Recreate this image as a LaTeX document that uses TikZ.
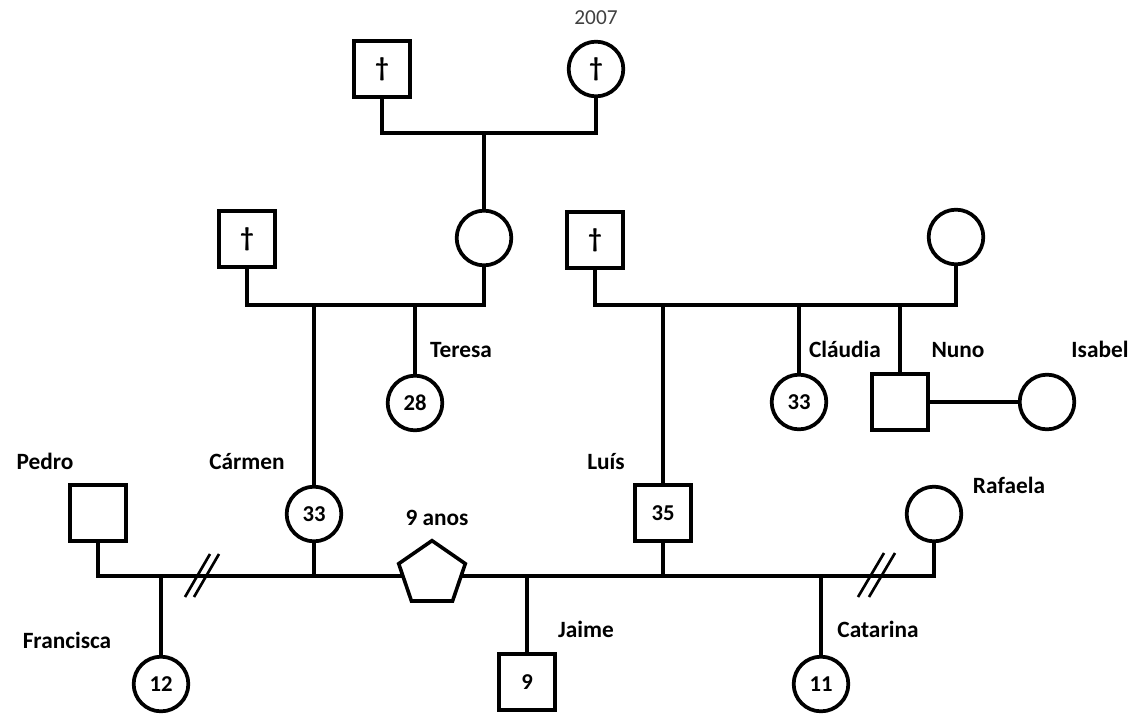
\documentclass[tikz,border=0pt]{standalone}
\usepackage{fontspec}
\setmainfont{Carlito}
\usetikzlibrary{shapes.geometric}
\begin{document}
\begin{tikzpicture}[x=0.75pt,y=-0.75pt,
  male/.style={draw, line width=3pt, minimum size=42pt, inner sep=0pt, fill=white, font=\bfseries\fontsize{17}{20}\selectfont},
  female/.style={circle, draw, line width=2.8pt, minimum size=41pt, inner sep=0pt, fill=white, font=\bfseries\fontsize{17}{20}\selectfont},
  unknown/.style={regular polygon, regular polygon sides=5, draw, line width=2.7pt, minimum size=50pt, inner sep=0pt, fill=white, xscale=1.05},
  persname/.style={font=\bfseries\fontsize{17.5}{20}\selectfont, inner sep=0pt, anchor=base, yshift=-5.5pt},
  dead/.style={font=\bfseries\fontsize{20}{22}\selectfont},
  rel/.style={line width=2.3pt},
  divorce/.style={line width=2pt}]
\useasboundingbox (0,0) rectangle (1135,714);
% generation I
\node[male, dead]   (gf) at (382,69) {†};
\node[female, dead] (gm) at (596,69) {†};
\node[font=\fontsize{16}{19}\selectfont, text=black!75, anchor=base, inner sep=0pt, yshift=-5pt] (y2007) at (596,18) {2007};
% generation II
\node[male, dead]   (cf) at (247,239) {†};
\node[female] (mo) at (484,238) {};
\node[male, dead]   (lf) at (595,240) {†};
\node[female] (lm) at (956,237) {};
% generation III
\node[female] (teresa) at (415,403) {28};
\node[female] (claudia) at (799,402) {33};
\node[male]   (nuno) at (900,402) {};
\node[female] (isabel) at (1047,402) {};
\node[male]   (pedro) at (98,513) {};
\node[female] (carmen) at (314,514) {33};
\node[male]   (luis) at (663,513) {35};
\node[female] (rafaela) at (934,514) {};
% generation IV
\node[female] (francisca) at (161,684) {12};
\node[male]   (jaime) at (527,682) {9};
\node[female] (catarina) at (821,684) {11};
% junctions
\coordinate (j1) at (484,133);
\coordinate (j2) at (314,305);
\coordinate (j3) at (415,305);
\coordinate (j4) at (663,305);
\coordinate (j5) at (799,305);
\coordinate (j6) at (900,305);
\coordinate (j7) at (161,576);
% connectors
\draw[rel] (gf.south) |- (j1) -| (gm.south);
\draw[rel] (j1) -- (mo.north);
\draw[rel] (cf.south) |- (j2) -| (mo.south);
\draw[rel] (j2) -- (carmen.north);
\draw[rel] (j3) -- (teresa.north);
\draw[rel] (lf.south) |- (j4) -| (lm.south);
\draw[rel] (j4) -- (luis.north);
\draw[rel] (j5) -- (claudia.north);
\draw[rel] (j6) -- (nuno.north);
\draw[rel] (nuno.east) -- (isabel.west);
\draw[rel] (pedro.south) |- (j7) -- (rafaela.south |- j7) -- (rafaela.south);
\draw[rel] (j7) -- (francisca.north);
\draw[rel] (carmen.south) -- (carmen.south |- j7);
\draw[rel] (luis.south) -- (luis.south |- j7);
\draw[rel] (jaime.north) -- (jaime.north |- j7);
\draw[rel] (catarina.north) -- (catarina.north |- j7);
\node[unknown] (pent) at (432,574) {};
% divorce marks
\draw[divorce] (185,597) -- (210,554);
\draw[divorce] (194,597) -- (219,554);
\draw[divorce] (858,597) -- (884,553);
\draw[divorce] (869,597) -- (895,553);
% labels
\node[persname] (lteresa) at (461,350) {Teresa};
\node[persname] (lclaudia) at (845,350) {Cláudia};
\node[persname] (lnuno) at (958,350) {Nuno};
\node[persname] (lisabel) at (1100,350) {Isabel};
\node[persname] (lpedro) at (45,462) {Pedro};
\node[persname] (lcarmen) at (247,462) {Cármen};
\node[persname] (lanos) at (437,518) {9 anos};
\node[persname] (lluis) at (606,462) {Luís};
\node[persname] (lrafaela) at (1009,486) {Rafaela};
\node[persname] (lfrancisca) at (67,641) {Francisca};
\node[persname] (ljaime) at (586,630) {Jaime};
\node[persname] (lcatarina) at (878,630) {Catarina};
\end{tikzpicture}
\end{document}
